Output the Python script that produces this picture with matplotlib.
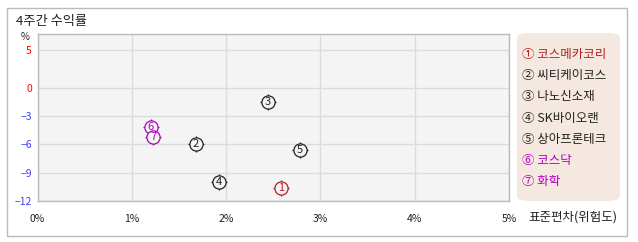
import numpy as np
import matplotlib
matplotlib.use("Agg")
import matplotlib.pyplot as plt
from matplotlib.patches import FancyBboxPatch, Rectangle

plt.rcParams['font.family'] = ['Noto Sans CJK KR', 'DejaVu Sans']

# data
names = ["코스메카코리", "씨티케이코스", "나노신소재", "SK바이오랜", "상아프론테크", "코스닥", "화학"]
circled = ["①", "②", "③", "④", "⑤", "⑥", "⑦"]
risk = [2.58, 1.68, 2.44, 1.92, 2.78, 1.20, 1.23]        # 표준편차 (%)
ret = [-10.6, -6.0, -1.5, -10.0, -6.6, -4.2, -5.2]        # 4주간 수익률 (%)
colors = ["#b22222", "#222222", "#222222", "#222222", "#222222", "#b000c0", "#b000c0"]
yticks = [5, 0, -3, -6, -9, -12]
xticks = [0, 1, 2, 3, 4, 5]

W, H = 638, 242
fig = plt.figure(figsize=(W / 100, H / 100), dpi=100)

def px(x0, y0, x1, y1):
    return [x0 / W, 1 - y1 / H, (x1 - x0) / W, (y1 - y0) / H]

# outer frame
fig.patches.append(Rectangle((6.5 / W, 1 - 235.5 / H), 620.5 / W, 228 / H,
                             transform=fig.transFigure, fill=False,
                             edgecolor="#bbbbbb", linewidth=1))

ax = fig.add_axes(px(37.5, 34, 509, 201))
ax.set_facecolor("#f4f4f4")

# positive side is compressed relative to negative side
k = 0.79
def fwd(y):
    y = np.asarray(y, dtype=float)
    return np.where(y > 0, y * k, y)
def inv(t):
    t = np.asarray(t, dtype=float)
    return np.where(t > 0, t / k, t)
ax.set_yscale('function', functions=(fwd, inv))

ax.set_xlim(0, 5)
ax.set_ylim(-12, 7.2)
ax.set_xticks(xticks)
ax.set_xticklabels([f"{v}%" for v in xticks])
ax.set_yticks(yticks)
ax.set_yticklabels([str(v).replace("-", "\u2212") for v in yticks])
for lbl, v in zip(ax.get_yticklabels(), yticks):
    lbl.set_color("#ff0000" if v >= 0 else "#4040ff")
ax.tick_params(length=0, labelsize=7.5, pad=5)
ax.tick_params(axis='x', pad=9, colors="#222222")
ax.tick_params(axis='y', pad=4)
ax.grid(True, color="#dcdcdc", linewidth=1)
ax.set_axisbelow(True)
for s in ax.spines.values():
    s.set_color("#bbbbbb")
    s.set_linewidth(1)

for i in range(len(names)):
    ax.plot(risk[i], ret[i], marker='+', markersize=12, color=colors[i],
            markeredgewidth=0.9, zorder=3)
    ax.plot(risk[i], ret[i], marker='o', markersize=9.5, markerfacecolor="#f4f4f4",
            markeredgecolor=colors[i], markeredgewidth=0.9, zorder=4)
    ax.text(risk[i], ret[i], str(i + 1), color=colors[i], fontsize=8,
            ha='center', va='center', zorder=5)

fig.text(16 / W, 1 - 21 / H, "4주간 수익률", fontsize=9.5, color="#222222",
         ha='left', va='center')
fig.text(25 / W, 1 - 37 / H, "%", fontsize=7, color="#222222", ha='center', va='center')
fig.text(528 / W, 1 - 217 / H, "표준편차(위험도)", fontsize=9, color="#222222",
         ha='left', va='center')

# legend box
fig.patches.append(FancyBboxPatch((517 / W, 1 - 201 / H), 103 / W, 168 / H,
                                  boxstyle="round,pad=0,rounding_size=0.02",
                                  transform=fig.transFigure,
                                  facecolor="#f5e8e0", edgecolor="none"))
for i in range(len(names)):
    y = 54.5 + i * 21.2
    fig.text(522 / W, 1 - y / H, f"{circled[i]} {names[i]}", fontsize=9,
             color=colors[i], ha='left', va='center')

fig.savefig("out.png", dpi=100)
